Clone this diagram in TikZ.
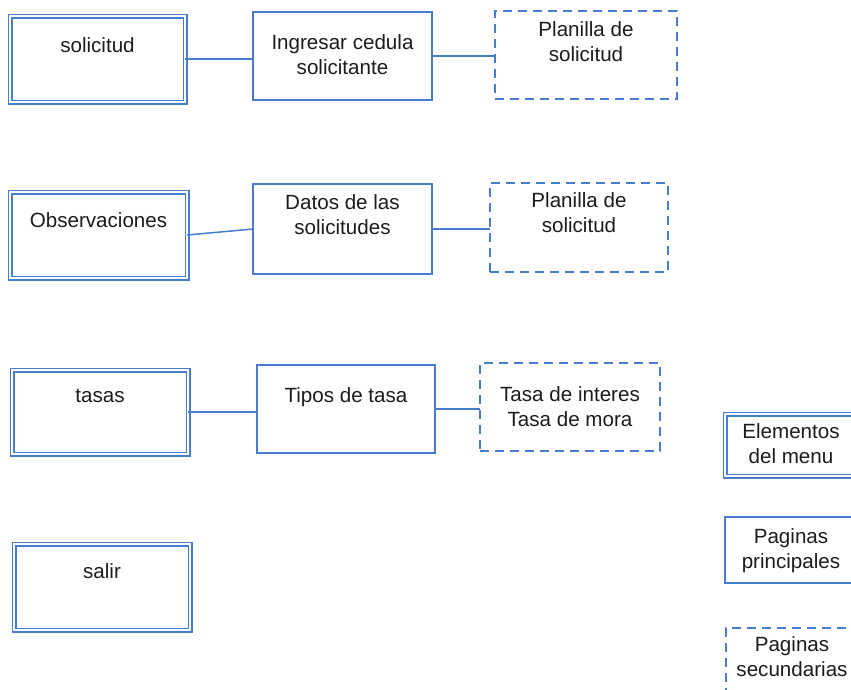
\documentclass[tikz,border=0pt]{standalone}
\usepackage{fontspec}
\setmainfont{Liberation Sans}
\begin{document}
\definecolor{boxblue}{RGB}{72,124,204}
\definecolor{ink}{RGB}{28,28,28}
\begin{tikzpicture}[x=1pt,y=-1pt,
  every node/.style={inner sep=0pt,outer sep=0pt},
  plainbox/.style={draw=boxblue,line width=1.2pt,anchor=north west,rectangle},
  menubox/.style={plainbox,double=white,double distance=2.6pt,line width=1.2pt},
  subbox/.style={plainbox,dash pattern=on 9pt off 6pt},
  txt/.style={anchor=north,align=center,text=ink,font=\fontsize{20.6}{25}\selectfont},
  link/.style={draw=boxblue,line width=1.5pt}]
\useasboundingbox (0,0) rectangle (851,689);
\clip (0,0) rectangle (851,689);

% row 1
\node[menubox,minimum width=175,minimum height=86] (m1) at (10,16) {};
\node[plainbox,minimum width=179,minimum height=88] (p1) at (253,12) {};
\node[subbox,minimum width=182,minimum height=88] (s1) at (495,11) {};
\node[txt] (tm1) at ([yshift=-22]m1.north) {solicitud};
\node[txt] (tp1) at ([yshift=-23]p1.north) {Ingresar cedula\\solicitante};
\node[txt] (ts1) at ([yshift=-11]s1.north) {Planilla de\\solicitud};
\draw[link] (m1.east) -- (m1.east -| p1.west);
\draw[link] (p1.east) -- (p1.east -| s1.west);

% row 2
\node[menubox,minimum width=177,minimum height=86] (m2) at (10,192) {};
\node[plainbox,minimum width=179,minimum height=90] (p2) at (253,184) {};
\node[subbox,minimum width=178,minimum height=89] (s2) at (490,183) {};
\node[txt] (tm2) at ([yshift=-21]m2.north) {Observaciones};
\node[txt] (tp2) at ([yshift=-11]p2.north) {Datos de las\\solicitudes};
\node[txt] (ts2) at ([yshift=-10]s2.north) {Planilla de\\solicitud};
\draw[link] (m2.east) -- (p2.west);
\draw[link] (p2.east) -- (p2.east -| s2.west);

% row 3
\node[menubox,minimum width=176,minimum height=84] (m3) at (12,370) {};
\node[plainbox,minimum width=178,minimum height=88] (p3) at (257,365) {};
\node[subbox,minimum width=180,minimum height=88] (s3) at (480,363) {};
\node[txt] (tm3) at ([yshift=-19]m3.north) {tasas};
\node[txt] (tp3) at ([yshift=-23]p3.north) {Tipos de tasa};
\node[txt] (ts3) at ([yshift=-24]s3.north) {Tasa de interes\\Tasa de mora};
\draw[link] (m3.east) -- (m3.east -| p3.west);
\draw[link] (p3.east) -- (p3.east -| s3.west);

% row 4
\node[menubox,minimum width=176,minimum height=86] (m4) at (14,544) {};
\node[txt] (tm4) at ([yshift=-20]m4.north) {salir};

% legend
\node[menubox,minimum width=132,minimum height=62] (k1) at (725,414) {};
\node[plainbox,minimum width=132,minimum height=66] (k2) at (725,517) {};
\node[subbox,minimum width=132,minimum height=66] (k3) at (726,628) {};
\node[txt] (tk1) at ([yshift=-10]k1.north) {Elementos\\del menu};
\node[txt] (tk2) at ([yshift=-12]k2.north) {Paginas\\principales};
\node[txt] (tk3) at ([yshift=-9]k3.north) {Paginas\\secundarias};
\end{tikzpicture}
\end{document}
